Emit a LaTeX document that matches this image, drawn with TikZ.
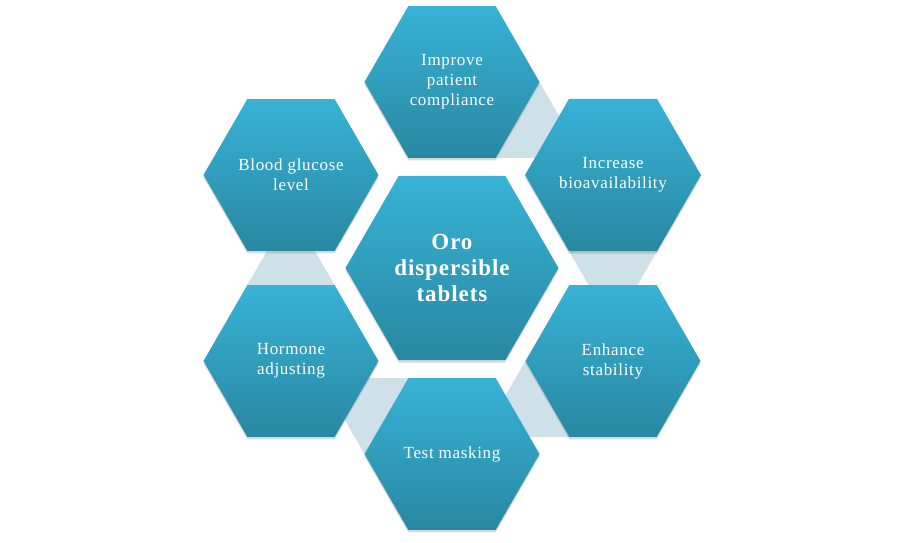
\documentclass[tikz,border=0pt]{standalone}
\usepackage{fontspec}
\setmainfont{Liberation Serif}
\newfontfamily\hexfont[LetterSpace=4]{Liberation Serif}
\usetikzlibrary{positioning, shapes.geometric, shadows, backgrounds}
\definecolor{hextop}{RGB}{56,178,214}
\definecolor{hexbottom}{RGB}{40,136,161}
\definecolor{linkfill}{RGB}{206,224,232}
\begin{document}
\begin{tikzpicture}
[
						node distance={186bp}, on grid,
						hexa/.style = {regular polygon, regular polygon sides=6, minimum size=175bp, inner sep=0pt, outer sep=0pt, top color=hextop, bottom color=hexbottom, text=white, align=center, font=\hexfont\fontsize{17bp}{20bp}\selectfont, drop shadow={shadow xshift=0bp, shadow yshift=-2.5bp, opacity=0.3, fill=black!50}},
						bighexa/.style = {hexa, minimum size=213bp, font=\hexfont\bfseries\fontsize{23bp}{26bp}\selectfont},
						link/.style = {fill=linkfill}
					]
\useasboundingbox (-452bp,-275bp) rectangle (452bp,268bp);
\node[bighexa] (oro) {Oro\\dispersible\\tablets};
\node[hexa] (improve) [above=of oro] {Improve\\patient\\compliance};
\node[hexa] (increase) [above right=93bp and 161bp of oro] {Increase\\bioavailability};
\node[hexa] (enhance) [below right=93bp and 161bp of oro] {Enhance\\stability};
\node[hexa] (test) [below=of oro] {Test masking};
\node[hexa] (hormone) [below left=93bp and 161bp of oro] {Hormone\\adjusting};
\node[hexa] (blood) [above left=93bp and 161bp of oro] {Blood glucose\\level};
\begin{scope}[on background layer]
\fill[link] (improve.-60) -- (improve.0) -- ++(-60:41bp) -- ([shift={(0:41bp)}]improve.-60) -- cycle;
\fill[link] (increase.-120) -- (increase.-60) -- ++(-120:41bp) -- ([shift={(-60:41bp)}]increase.-120) -- cycle;
\fill[link] (enhance.180) -- (enhance.240) -- ++(180:41bp) -- ([shift={(240:41bp)}]enhance.180) -- cycle;
\fill[link] (test.120) -- (test.180) -- ++(120:41bp) -- ([shift={(180:41bp)}]test.120) -- cycle;
\fill[link] (hormone.60) -- (hormone.120) -- ++(60:41bp) -- ([shift={(120:41bp)}]hormone.60) -- cycle;
\end{scope}
\end{tikzpicture}
\end{document}
